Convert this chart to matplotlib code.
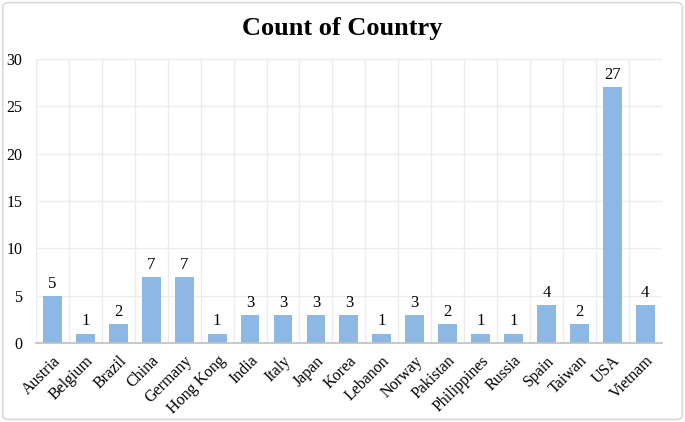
import matplotlib
matplotlib.use("Agg")
import matplotlib.pyplot as plt
from matplotlib.patches import FancyBboxPatch
import numpy as np

countries = ["Austria", "Belgium", "Brazil", "China", "Germany", "Hong Kong",
             "India", "Italy", "Japan", "Korea", "Lebanon", "Norway",
             "Pakistan", "Philippines", "Russia", "Spain", "Taiwan", "USA",
             "Vietnam"]
counts = [5, 1, 2, 7, 7, 1, 3, 3, 3, 3, 1, 3, 2, 1, 1, 4, 2, 27, 4]

plt.rcParams["font.family"] = ["Liberation Serif", "DejaVu Serif"]

fig = plt.figure(figsize=(6.85, 4.22), dpi=100)
ax = fig.add_axes([0.0526, 0.187, 0.9134, 0.673])

x = np.arange(len(countries))
bars = ax.bar(x, counts, width=0.57, color="#8db8e3", zorder=3)
ax.bar_label(bars, labels=[str(c) for c in counts], padding=3, fontsize=12)

ax.set_xlim(-0.5, len(countries) - 0.5)
ax.set_ylim(0, 30)
ax.set_yticks(range(0, 31, 5))
ax.set_xticks(x)
ax.set_xticklabels(countries, rotation=45, ha="right", rotation_mode="anchor",
                   fontsize=11.5)
ax.tick_params(axis="both", length=0, labelsize=11.5)
ax.tick_params(axis="x", pad=7)
ax.tick_params(axis="y", pad=10)

# gridlines at category boundaries and y ticks
ax.set_xticks(np.arange(-0.5, len(countries)), minor=True)
ax.grid(True, which="minor", axis="x", color="#ececec", lw=1, zorder=0)
ax.grid(True, which="major", axis="y", color="#ececec", lw=1, zorder=0)
ax.tick_params(which="minor", length=0)

for s in ["top", "right", "left"]:
    ax.spines[s].set_visible(False)
ax.spines["bottom"].set_color("#bfbfbf")
ax.spines["bottom"].set_linewidth(1.2)
ax.spines["bottom"].set_zorder(4)

fig.text(0.5, 0.933, "Count of Country", ha="center", va="center",
         fontsize=19, fontweight="bold")

border = FancyBboxPatch((0.004, 0.006), 0.992, 0.988,
                        boxstyle="round,pad=0,rounding_size=0.01",
                        transform=fig.transFigure, fill=False,
                        edgecolor="#d9d9d9", lw=1.2)
fig.patches.append(border)

fig.savefig("out.png", dpi=100)
